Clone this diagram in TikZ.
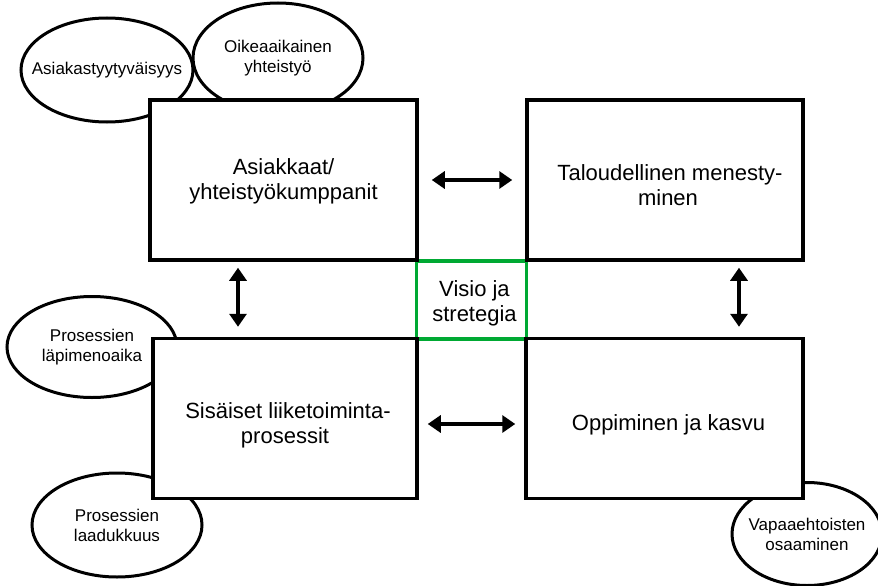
\documentclass[tikz,border=0pt]{standalone}
\usepackage{fontspec}
\setmainfont{Liberation Sans}
\usetikzlibrary{arrows.meta,shapes.geometric,positioning}
\definecolor{visiogreen}{HTML}{00A933}
\newcommand{\lowr}[1]{\rule{0pt}{#1}}
\begin{document}
\begin{tikzpicture}[x=1pt,y=-1pt,>={Triangle[length=13pt,width=17pt]},line width=3.2pt]
	\tikzstyle{persp}=[draw, rectangle, fill=white, line width=3.5pt, minimum height=160pt, inner sep=0pt, align=center, font=\fontsize{22}{25}\selectfont]
	\tikzstyle{goal}=[draw, ellipse, fill=white, line width=3pt, inner xsep=-35pt, inner ysep=-5pt, align=center, font=\fontsize{17}{20}\selectfont]
	\tikzstyle{vision}=[draw=visiogreen, rectangle, line width=3.2pt, outer sep=0pt, minimum width=110pt, minimum height=78pt, inner sep=0pt, align=center, font=\fontsize{22}{25}\selectfont]
	\useasboundingbox (0,0) rectangle (878,586);
	% tavoitteet
	\node[goal, minimum width=172pt, minimum height=104pt] (sat) at (107,70) {Asiakastyytyväisyys};
	\node[goal, minimum width=170pt, minimum height=110pt] (oik) at (278,58) {Oikeaaikainen\\yhteistyö};
	\node[goal, minimum width=170pt, minimum height=101pt] (lap) at (92,347) {Prosessien\\läpimenoaika};
	\node[goal, minimum width=170pt, minimum height=104pt] (laa) at (117,525) {Prosessien\\laadukkuus};
	\node[goal, minimum width=150pt, minimum height=103pt] (vap) at (807,534) {Vapaaehtoisten\\osaaminen};
	% visio keskellä
	\node[vision] (V) at (471.5,300) {\lowr{22pt}\hspace*{6pt}Visio ja\\\hspace*{6pt}stretegia};
	% näkökulmat
	\node[persp, minimum width=267pt] (AS) at (283.5,180) {\lowr{19pt}Asiakkaat/\\yhteistyökumppanit};
	\node[persp, minimum width=276pt] (TA) at (665,180) {\lowr{26pt}\hspace*{10pt}Taloudellinen menesty-\\\hspace*{6pt}minen};
	\node[persp, minimum width=264pt] (SI) at (285,418.5) {\lowr{30pt}\hspace*{6pt}Sisäiset liiketoiminta-\\prosessit};
	\node[persp, minimum width=277pt] (OP) at (664.5,418.5) {\lowr{28pt}\hspace*{8pt}Oppiminen ja kasvu};
	\coordinate (lv) at (238,0);
	\coordinate (rv) at (739,0);
	\coordinate (hb) at (0,424);
	\draw[<->, shorten <=13pt, shorten >=13pt] (AS.east) -- (TA.west);
	\draw[<->, shorten <=9pt, shorten >=9pt] (SI.east |- hb) -- (OP.west |- hb);
	\draw[<->, shorten <=6pt, shorten >=10pt] (AS.south -| lv) -- (SI.north -| lv);
	\draw[<->, shorten <=6pt, shorten >=10pt] (TA.south -| rv) -- (OP.north -| rv);
\end{tikzpicture}
\end{document}
